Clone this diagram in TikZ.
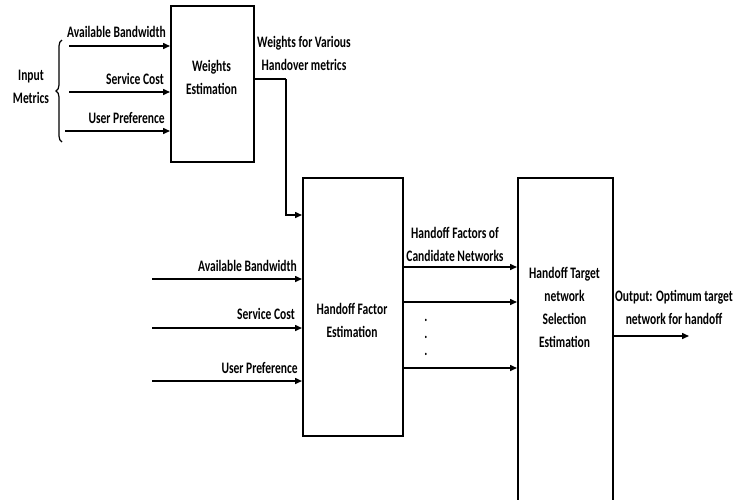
\documentclass[tikz,border=0pt]{standalone}
\usepackage{fontspec}
\setmainfont{Carlito}[FakeStretch=0.72]
\usetikzlibrary{arrows.meta,decorations.pathreplacing}
\begin{document}
\begin{tikzpicture}[x=1pt,y=-1pt,
  box/.style={draw,line width=1.6pt,inner sep=0pt,anchor=north west},
  lbl/.style={font=\bfseries\fontsize{16}{23}\selectfont,inner sep=0pt,align=center},
  arr/.style={line width=1.5pt,-{Triangle[length=7pt,width=6pt]}},
  ln/.style={line width=1.5pt}]
\useasboundingbox (0,0) rectangle (735,499);
% boxes
\node[box,minimum width=83pt,minimum height=156pt] (wbox) at (170,5) {};
\node[box,minimum width=100pt,minimum height=258pt] (hbox) at (302,177) {};
\node[box,minimum width=95pt,minimum height=330pt] (tbox) at (517,177) {};
% box texts
\node[lbl] (wtxt) at (211.5,77) {Weights\\Estimation};
\node[lbl] (htxt) at (352,320.5) {Handoff Factor\\Estimation};
\node[lbl] (ttxt) at (564.5,307) {Handoff Target\\network\\Selection\\Estimation};
% input metrics
\node[lbl] (inm) at (31,87) {Input\\Metrics};
\coordinate (brT) at (62,40);
\coordinate (brB) at (62,142);
\draw[line width=1.2pt,decorate,decoration={brace,amplitude=6pt,mirror}] (brT) -- (brB);
% top inputs
\coordinate (a1) at (69,46);
\coordinate (a2) at (69,92);
\coordinate (a3) at (65,131);
\draw[arr] (a1) -- (a1 -| wbox.west);
\draw[arr] (a2) -- (a2 -| wbox.west);
\draw[arr] (a3) -- (a3 -| wbox.west);
\node[lbl,anchor=east] (l1) at (166,32) {Available Bandwidth};
\node[lbl,anchor=east] (l2) at (164,79) {Service Cost};
\node[lbl,anchor=east] (l3) at (165,118) {User Preference};
% weights output
\node[lbl] (wout) at (304,53.5) {Weights for Various\\Handover metrics};
\coordinate (w1) at (253,79);
\coordinate (w2) at (286,79);
\coordinate (w3) at (286,215);
\draw[ln] (w1) -- (w2);
\draw[arr] (w2) -- (w3) -- (w3 -| hbox.west);
% lower inputs
\coordinate (b1) at (152,279);
\coordinate (b2) at (152,328);
\coordinate (b3) at (152,381);
\draw[arr] (b1) -- (b1 -| hbox.west);
\draw[arr] (b2) -- (b2 -| hbox.west);
\draw[arr] (b3) -- (b3 -| hbox.west);
\node[lbl,anchor=east] (m1) at (297,266) {Available Bandwidth};
\node[lbl,anchor=east] (m2) at (295,314) {Service Cost};
\node[lbl,anchor=east] (m3) at (298,368) {User Preference};
% handoff factors
\node[lbl] (hf) at (455,244) {Handoff Factors of\\Candidate Networks};
\coordinate (h1) at (402,267);
\coordinate (h2) at (402,302);
\coordinate (h3) at (402,368);
\draw[arr] (h1) -- (h1 -| tbox.west);
\draw[arr] (h2) -- (h2 -| tbox.west);
\draw[arr] (h3) -- (h3 -| tbox.west);
\node[lbl] (dots) at (426,337) {.\\[-6pt].\\[-6pt].};
% output
\node[lbl] (out) at (674,307) {Output: Optimum target\\network for handoff};
\coordinate (o1) at (612,336);
\coordinate (o2) at (689,336);
\draw[arr] (o1) -- (o2);
\end{tikzpicture}
\end{document}
